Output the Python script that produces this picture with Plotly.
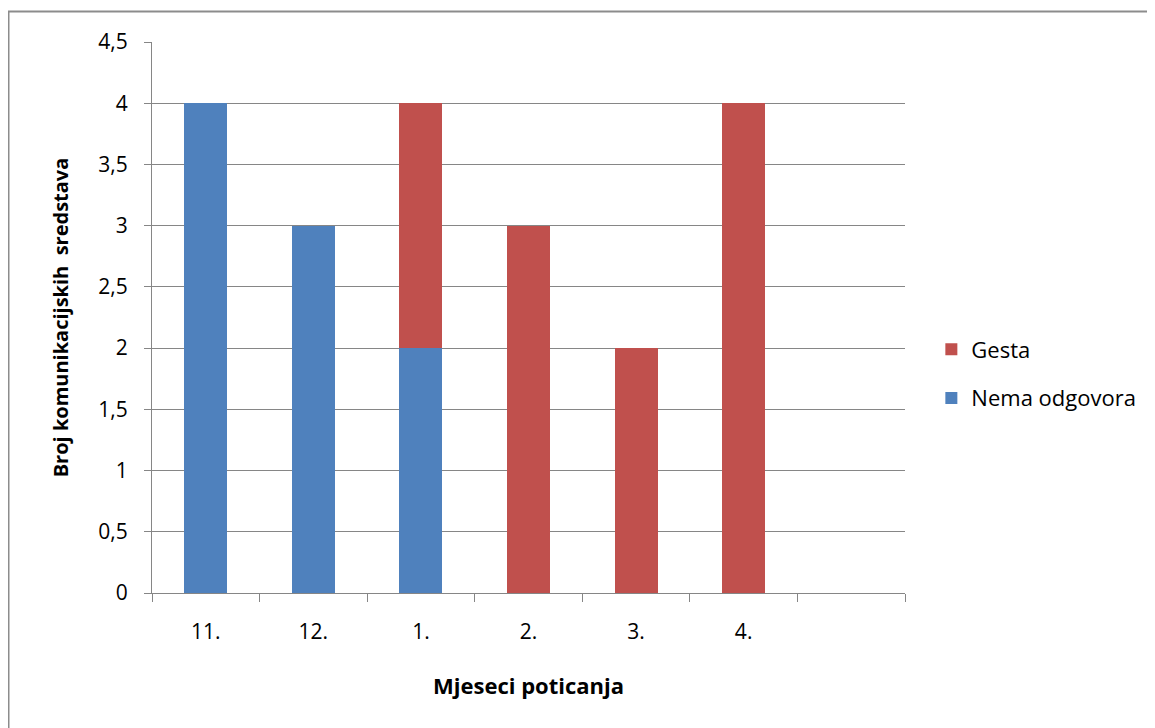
import plotly.graph_objects as go

categories = ["11.", "12.", "1.", "2.", "3.", "4.", ""]
nema_odgovora = [4, 3, 2, 0, 0, 0, None]
gesta = [0, 0, 2, 3, 2, 4, None]

BLUE = "#4F81BD"
RED = "#C0504D"
FONT = "Open Sans"

xpos = list(range(len(categories)))

fig = go.Figure()
fig.add_trace(go.Bar(x=xpos, y=nema_odgovora, name="Nema odgovora", legendgroup="n", legendrank=2,
                     marker=dict(color=BLUE, line=dict(width=0)), width=0.4))
fig.add_trace(go.Bar(x=xpos, y=gesta, name="Gesta", legendgroup="g", legendrank=1,
                     marker=dict(color=RED, line=dict(width=0)), width=0.4))

# page body has an 8px margin; figure coordinates are window coordinates minus 8
OFF = 8
L, R, T, B = 152 - OFF, 250, 42 - OFF, 135
W, H = 1155 - OFF, 728 - OFF
pw, ph = W - L - R, H - T - B

def px_x(p):
    return (p - OFF - L) / pw

def px_y(p):
    return (H - B - (p - OFF)) / ph

fig.update_layout(
    width=W, height=H,
    barmode="stack",
    separators=", ",
    paper_bgcolor="white", plot_bgcolor="white",
    margin=dict(l=L, r=R, t=T, b=B, pad=0),
    font=dict(family=FONT, size=21, color="#000000"),
    showlegend=True,
    legend=dict(traceorder="grouped", x=1.035, y=px_y(374), xanchor="left", yanchor="middle",
                font=dict(size=22), itemwidth=30, tracegroupgap=17,
                bgcolor="rgba(0,0,0,0)"),
    xaxis=dict(
        range=[-0.5, len(categories) - 0.5],
        tickmode="array", tickvals=xpos, ticktext=categories,
        ticks="", showgrid=False, zeroline=False,
        showline=True, linecolor="#868686", linewidth=1,
        ticklabelstandoff=20,
        minor=dict(tickmode="array",
                   tickvals=[i - 0.5 for i in range(len(categories) + 1)],
                   ticks="outside", ticklen=8, tickcolor="#868686", tickwidth=1,
                   showgrid=False),
        title=dict(text="<b>Mjeseci poticanja</b>", font=dict(size=22), standoff=34),
        fixedrange=True,
    ),
    yaxis=dict(
        range=[0, 4.5], tickmode="linear", tick0=0, dtick=0.5,
        showgrid=True, gridcolor="#868686", gridwidth=1,
        zeroline=False, showline=True, linecolor="#868686", linewidth=1,
        ticks="outside", ticklen=7, tickcolor="#868686",
        ticklabelstandoff=12,
        title=dict(text="<b>Broj komunikacijskih  sredstava</b>", font=dict(size=20), standoff=24),
        fixedrange=True,
    ),
    shapes=[dict(type="rect", xref="paper", yref="paper",
                 x0=px_x(8.5), x1=px_x(1170), y0=px_y(740), y1=px_y(11.5),
                 line=dict(color="#8C8C8C", width=2), fillcolor="rgba(0,0,0,0)",
                 layer="below")],
)

fig.write_html("out.html")
